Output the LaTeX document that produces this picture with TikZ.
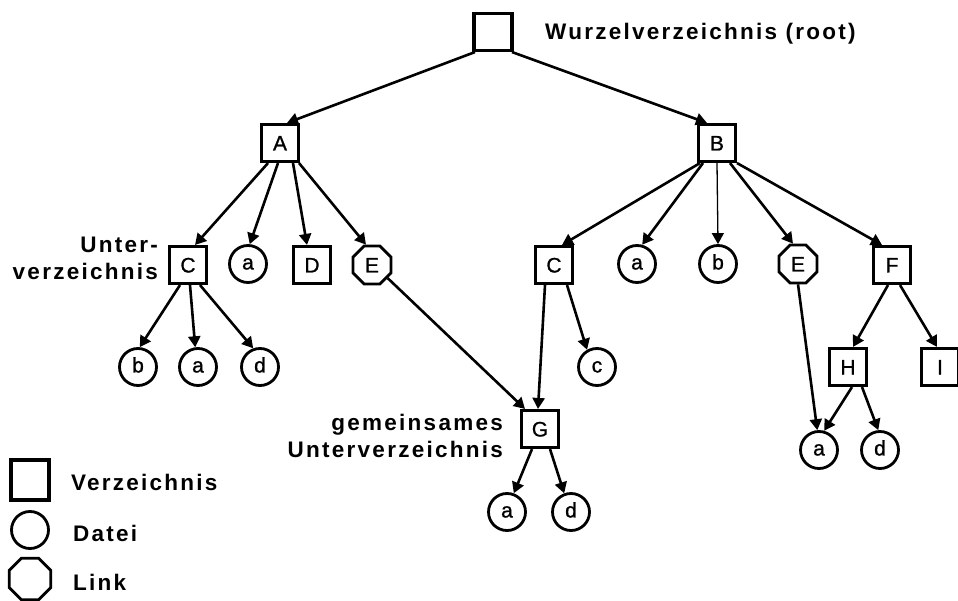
\documentclass[tikz,border=0pt]{standalone}
\usepackage{fontspec}
\setmainfont{Liberation Sans}
\newfontfamily\lblfont{Liberation Sans Bold}[LetterSpace=10]
\newfontfamily\letterfont{Liberation Sans}[FakeBold=1]
\usetikzlibrary{shapes.geometric,arrows.meta}

\begin{document}
\begin{tikzpicture}[x=1pt,y=-1pt,
  dirbox/.style={draw, rectangle, line width=3.1pt, minimum size=37pt, inner sep=0pt,
    font=\letterfont\fontsize{21}{24}\selectfont, text height=15pt, text depth=0pt},
  filenode/.style={draw, circle, line width=2.8pt, minimum size=37pt, inner sep=0pt,
    font=\letterfont\fontsize{21}{24}\selectfont, text height=10.9pt, text depth=0pt},
  linknode/.style={draw, regular polygon, regular polygon sides=8, line width=2.8pt,
    minimum size=41pt, inner sep=0pt,
    font=\letterfont\fontsize{21}{24}\selectfont, text height=15pt, text depth=0pt},
  lbl/.style={font=\lblfont\fontsize{22.5}{26}\selectfont, inner sep=0pt},
  arr/.style={line width=2.6pt, -{Triangle[length=11pt,width=12pt]}},
  thinarr/.style={line width=1.3pt, -{Triangle[length=11pt,width=12pt]}}]

\useasboundingbox (0,0) rectangle (958,601);

% root
\node[dirbox, minimum width=38pt] (root) at (493,32) {};
\node[lbl, anchor=base west] (rootlbl) at (545,40) {Wurzelverzeichnis (root)};

% first level
\node[dirbox] (A) at (280,143) {A};
\node[dirbox] (B) at (717,143) {B};

% children of A
\node[dirbox] (CL) at (188,265) {C};
\node[filenode] (aL) at (248,264) {a};
\node[dirbox] (D) at (312,265) {D};
\node[linknode] (EL) at (372,265) {E};
\node[lbl, anchor=base east] (unter1) at (158,253) {Unter-};
\node[lbl, anchor=base east] (unter2) at (158,280) {verzeichnis};

% children of B
\node[dirbox] (CR) at (554,265) {C};
\node[filenode] (aR) at (637,264) {a};
\node[filenode] (bR) at (718,264) {b};
\node[linknode] (ER) at (798,264) {E};
\node[dirbox] (F) at (892,265) {F};

% third level
\node[filenode] (bC) at (138,367) {b};
\node[filenode] (aC) at (198,367) {a};
\node[filenode] (dC) at (260,367) {d};
\node[filenode] (cR) at (597,367) {c};
\node[dirbox] (H) at (848,367) {H};
\node[dirbox] (I) at (940,367) {I};

% shared subdirectory
\node[dirbox] (G) at (540,429) {G};
\node[lbl, anchor=base east] (gem1) at (503,430) {gemeinsames};
\node[lbl, anchor=base east] (gem2) at (503,457) {Unterverzeichnis};
\node[filenode] (aG) at (507,512) {a};
\node[filenode] (dG) at (571,512) {d};

% files below H
\node[filenode] (aH) at (819,450) {a};
\node[filenode] (dH) at (880,450) {d};

% connectors
\draw[arr] ([xshift=-18pt]root.south) -- ([xshift=7pt]A.north);
\draw[arr] ([xshift=19pt]root.south) -- ([xshift=-10pt]B.north);

\draw[arr] ([xshift=-12pt]A.south) -- ([xshift=7pt]CL.north);
\draw[arr] ([xshift=-2pt]A.south) -- (aL.85);
\draw[arr] ([xshift=13pt]A.south) -- ([xshift=-5pt]D.north);
\draw[arr] ([xshift=19pt]A.south) -- ([xshift=-6pt]EL.north);

\draw[arr] ([xshift=-17pt]B.south) -- ([xshift=8pt]CR.north);
\draw[arr] ([xshift=-14pt]B.south) -- (aR.75);
\draw[thinarr] (B.south) -- (bR.north);
\draw[arr] ([xshift=13pt]B.south) -- ([xshift=-5pt]ER.north);
\draw[arr] ([xshift=20pt]B.south) -- ([xshift=-10pt]F.north);

\draw[arr] ([xshift=-8pt]CL.south) -- (bC.85);
\draw[arr] ([xshift=2pt]CL.south) -- (aC.98);
\draw[arr] ([xshift=12pt]CL.south) -- (dC.110);

\draw[arr] (EL.-40) -- ([xshift=-15pt]G.north);
\draw[arr] ([xshift=-9pt]CR.south) -- ([xshift=-2pt]G.north);
\draw[arr] ([xshift=13pt]CR.south) -- (cR.120);

\draw[arr] (ER.south) -- (aH.95);
\draw[arr] ([xshift=-4pt]F.south) -- ([xshift=5pt]H.north);
\draw[arr] ([xshift=8pt]F.south) -- ([xshift=-3pt]I.north);
\draw[arr] ([xshift=4pt]H.south) -- (aH.75);
\draw[arr] ([xshift=14pt]H.south) -- (dH.95);

\draw[arr] ([xshift=-8pt]G.south) -- (aG.70);
\draw[arr] ([xshift=10pt]G.south) -- (dG.110);

% legend
\node[dirbox, minimum width=38pt, minimum height=40pt] (legdir) at (30,480) {};
\node[filenode] (legfile) at (30,530) {};
\node[linknode, minimum size=45pt] (leglink) at (30,579) {};
\node[lbl, anchor=base west] (legdirtxt) at (71,490) {Verzeichnis};
\node[lbl, anchor=base west] (legfiletxt) at (73,541) {Datei};
\node[lbl, anchor=base west] (leglinktxt) at (73,590) {Link};
\end{tikzpicture}
\end{document}
